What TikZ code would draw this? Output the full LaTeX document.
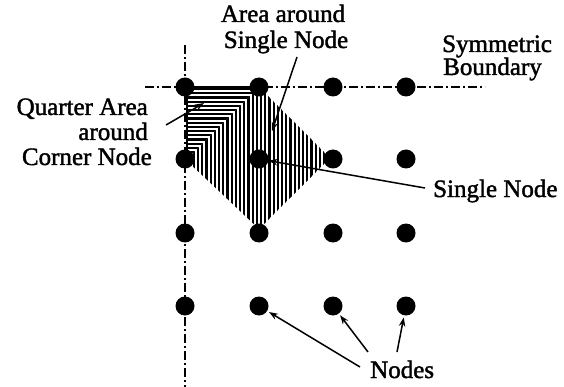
\documentclass[tikz,border=0pt]{standalone}
\usepackage{fontspec}
\setmainfont{Liberation Serif}
\newfontfamily\heavyserif[FakeBold=1.6]{Liberation Serif}
\usetikzlibrary{arrows.meta}
\begin{document}
\begin{tikzpicture}[x=1pt,y=-1pt,
  dot/.style={circle,fill=black,inner sep=0pt,minimum size=19pt},
  lbl/.style={inner sep=0pt,font=\heavyserif\fontsize{25}{28}\selectfont},
  sym/.style={line width=1.3pt,dash pattern=on 9pt off 3pt on 2pt off 3pt},
  hatch/.style={line width=2.1pt},
  lead/.style={line width=1.5pt,-{Stealth[length=9pt,width=6.5pt]},shorten >=2pt}]
\useasboundingbox (0,0) rectangle (564,387);
% symmetric boundaries
\draw[sym] (185,45) -- (185,387);
\draw[sym] (145,87) -- (485,87);
% hatched quarter area (horizontal part)
\begin{scope}
  \clip (186,87) -- (259,87) -- (186,160) -- cycle;
  \foreach \k in {0,...,17}
    \draw[hatch] (180,{87+4.2*(\k+0.5)}) -- (265,{87+4.2*(\k+0.5)});
\end{scope}
% hatched area around single node (vertical part)
\begin{scope}
  \clip (259,87) -- (330,158) -- (259,229) -- (186,160) -- cycle;
  \foreach \k in {-18,...,18}
    \draw[hatch] ({259-4.2*(\k+0.5)},80) -- ({259-4.2*(\k+0.5)},235);
\end{scope}
\draw[line width=4pt] (186,88.5) -- (259,88.5);
\draw[line width=2pt] (187,87) -- (187,158);
% grid of nodes
\foreach \r/\y in {1/87,2/159,3/233,4/306}
  \foreach \c/\x in {1/185,2/259,3/333,4/406}
    \node[dot] (n\r\c) at (\x,\y) {};
% labels
\node[lbl,anchor=base] (aa1) at (283,22) {Area around};
\node[lbl,anchor=base] (aa2) at (286,48) {Single Node};
\node[lbl,anchor=base west] (sb1) at (442,52) {Symmetric};
\node[lbl,anchor=base west] (sb2) at (443,75) {Boundary};
\node[lbl,anchor=base east] (q1) at (148,115) {Quarter Area};
\node[lbl,anchor=base east] (q2) at (148,140) {around};
\node[lbl,anchor=base east] (q3) at (152,165) {Corner Node};
\node[lbl,anchor=base west] (sn) at (433,197) {Single Node};
\node[lbl,anchor=base west] (nd) at (370,378) {Nodes};
% leader coordinates
\coordinate (aS) at (297,57);
\coordinate (aT) at (272,131);
\coordinate (qS) at (166,125);
\coordinate (qT) at (204,103);
\coordinate (sS) at (425,188);
\coordinate (d1) at (360,367);
\coordinate (d2) at (368,352);
\coordinate (d3) at (397,352);
% leaders
\draw[lead,shorten >=0pt] (aS) -- (aT);
\draw[lead,shorten >=0pt] (qS) -- (qT);
\draw[lead,shorten >=0pt] (sS) -- (n22);
\draw[lead] (d1) -- (n42);
\draw[lead] (d2) -- (n43);
\draw[lead] (d3) -- (n44);
\end{tikzpicture}
\end{document}
